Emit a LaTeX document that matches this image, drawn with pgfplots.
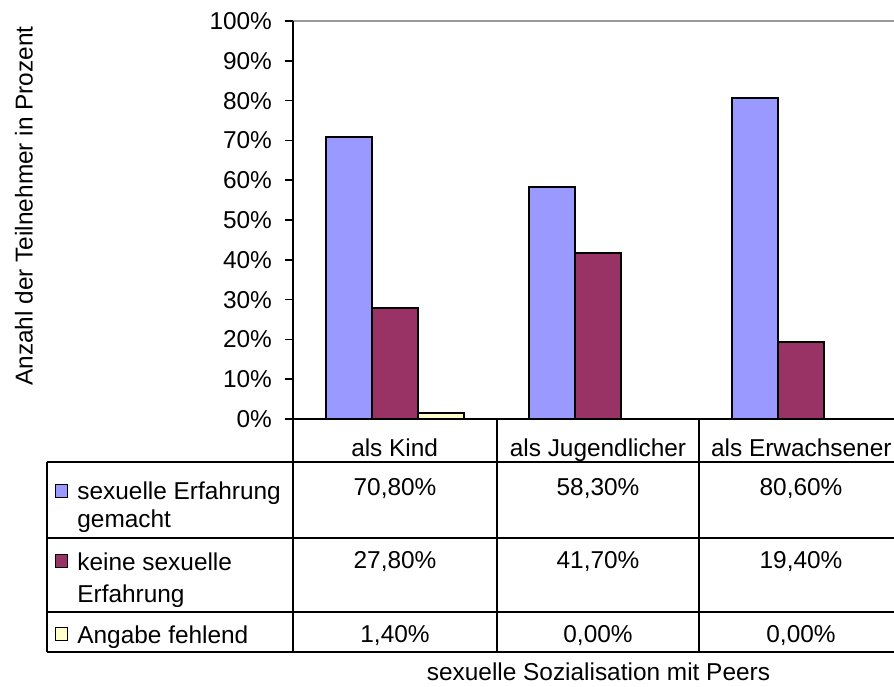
\documentclass[border=0pt]{standalone}
\usepackage{fontspec}
\setmainfont{Liberation Sans}
\usepackage{pgfplots}
\pgfplotsset{compat=1.18}
\definecolor{SERA}{HTML}{9999FF}
\definecolor{SERB}{HTML}{993366}
\definecolor{SERC}{HTML}{FFFFCC}
\definecolor{FRAME}{HTML}{999999}
\newcommand\cf{\fontsize{12.2pt}{14.5pt}\selectfont}

\begin{document}
\begin{tikzpicture}[font=\cf]
% page = 894 x 686 px, 1 px = 0.5pt
\useasboundingbox (0pt,0pt) rectangle (447pt,-343pt);

\begin{axis}[
  at={(146.5pt,-209.5pt)}, anchor=south west,
  scale only axis,
  width=305pt, height=199pt,
  ybar=0pt, bar width=23pt,
  xmin=0.5, xmax=3.5,
  ymin=0, ymax=100,
  xtick={1,2,3},
  xticklabels={als Kind, als Jugendlicher, als Erwachsener},
  xtick style={draw=none},
  xticklabel style={anchor=base, yshift=-14.5pt, font=\cf},
  ytick={0,10,...,100},
  yticklabel={\pgfmathprintnumber{\tick}\%},
  ytick pos=left,
  ytick align=outside,
  major tick length=4pt,
  ytick style={draw=black, line width=0.8pt},
  yticklabel style={anchor=east, xshift=-3pt, font=\cf},
  /pgf/number format/assume math mode=true,
  axis line style={draw=none},
  clip=false,
  xlabel={sexuelle Sozialisation mit Peers},
  xlabel style={at={(axis description cs:0.5008,-0.6558)}, anchor=base, font=\cf},
  ylabel={Anzahl der Teilnehmer in Prozent},
  ylabel style={at={(axis description cs:-0.4269,0.5352)}, anchor=base, font=\cf},
]
\addplot[draw=black, line width=1pt, fill=SERA] coordinates {(1,70.8) (2,58.3) (3,80.6)};
\addplot[draw=black, line width=1pt, fill=SERB] coordinates {(1,27.8) (2,41.7) (3,19.4)};
\addplot[draw=black, line width=1pt, fill=SERC] coordinates {(1,1.4)};
\draw[FRAME, line width=1pt] (rel axis cs:0,1) -- (rel axis cs:1,1);
\draw[black, line width=1pt] (rel axis cs:0,0) -- (rel axis cs:0,1);
\draw[black, line width=0.8pt] (rel axis cs:0,0) -- (rel axis cs:1,0);
\end{axis}

\begin{scope}[x=0.5pt, y=-0.5pt]
% data table
\draw[black, line width=0.7pt]
  (47,462) -- (903,462)
  (47,538) -- (903,538)
  (47,612) -- (903,612)
  (47,652) -- (903,652)
  (47,462) -- (47,652)
  (293,419) -- (293,652)
  (497,419) -- (497,652)
  (699,419) -- (699,652);
% legend keys
\draw[black, line width=0.5pt, fill=SERA] (55,484) rectangle (67,497);
\draw[black, line width=0.5pt, fill=SERB] (55,554) rectangle (67,567);
\draw[black, line width=0.5pt, fill=SERC] (55,627) rectangle (67,640);
\node[anchor=base west, inner sep=0pt] at (77,499) {sexuelle Erfahrung};
\node[anchor=base west, inner sep=0pt] at (77,527) {gemacht};
\node[anchor=base west, inner sep=0pt] at (77,570) {keine sexuelle};
\node[anchor=base west, inner sep=0pt] at (77,602) {Erfahrung};
\node[anchor=base west, inner sep=0pt] at (77,643) {Angabe fehlend};
% values
\node[anchor=base, inner sep=0pt] at (395,495) {70,80\%};
\node[anchor=base, inner sep=0pt] at (598,495) {58,30\%};
\node[anchor=base, inner sep=0pt] at (801,495) {80,60\%};
\node[anchor=base, inner sep=0pt] at (395,568) {27,80\%};
\node[anchor=base, inner sep=0pt] at (598,568) {41,70\%};
\node[anchor=base, inner sep=0pt] at (801,568) {19,40\%};
\node[anchor=base, inner sep=0pt] at (395,642) {1,40\%};
\node[anchor=base, inner sep=0pt] at (598,642) {0,00\%};
\node[anchor=base, inner sep=0pt] at (801,642) {0,00\%};
\end{scope}
\end{tikzpicture}
\end{document}
